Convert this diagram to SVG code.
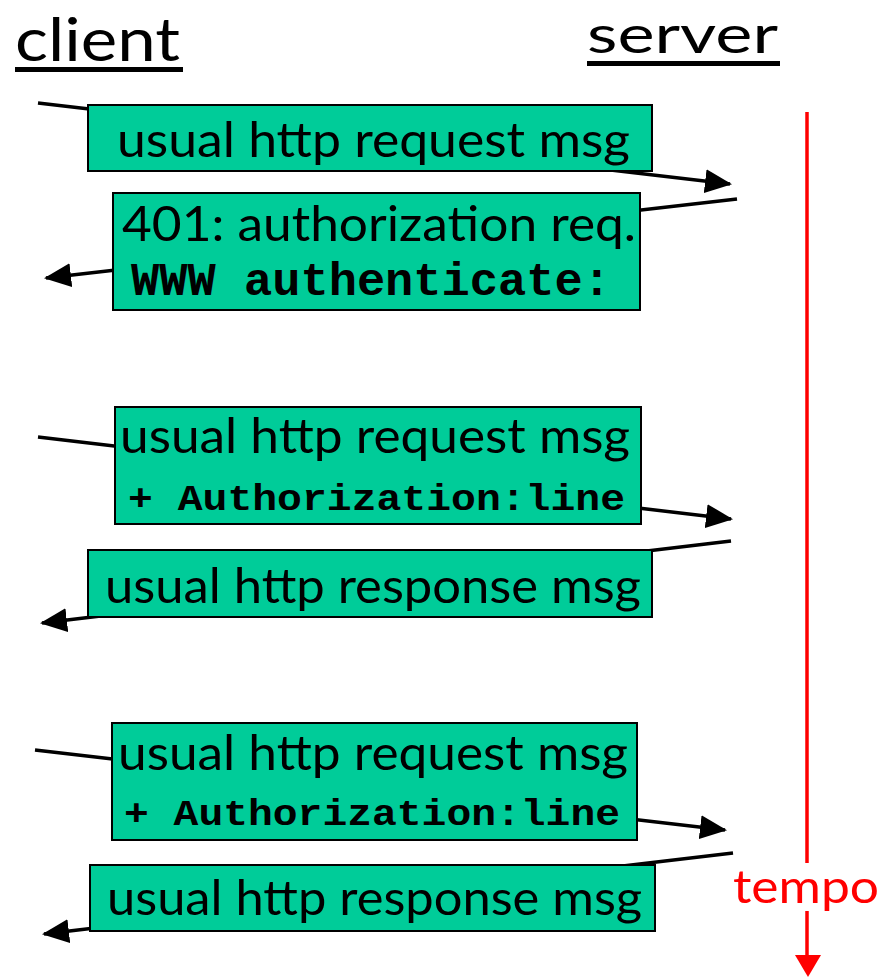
<svg xmlns="http://www.w3.org/2000/svg" width="893" height="978" viewBox="0 0 893 978">
  <style>
    .box { fill: #00CC99; stroke: #000; stroke-width: 2; }
    .msg { font-family: "Comic Sans MS", Lato, "DejaVu Sans", sans-serif; font-size: 48px; fill: #000; }
    .mono { font-family: "Liberation Mono", "Courier New", monospace; font-weight: bold; fill: #000; }
    .head { font-family: "Comic Sans MS", Lato, "DejaVu Sans", sans-serif; fill: #000; }
    .wire { stroke: #000; stroke-width: 3.5; fill: none; marker-end: url(#arrow); }
    .time { stroke: #FF0000; stroke-width: 3.5; fill: none; }
  </style>
  <defs>
    <marker id="arrow" markerUnits="userSpaceOnUse" markerWidth="30" markerHeight="26" refX="25" refY="12" orient="auto">
      <path d="M0,0 L27,12 L0,24 z" fill="#000"/>
    </marker>
  </defs>

  <rect width="893" height="978" fill="#fff"/>

  <!-- column headings -->
  <g id="client-label">
    <text class="head" x="15" y="61" font-size="60" textLength="165" lengthAdjust="spacingAndGlyphs">client</text>
    <rect x="15" y="67" width="168" height="5" fill="#000"/>
  </g>
  <g id="server-label">
    <text class="head" x="587" y="53" font-size="53" textLength="191" lengthAdjust="spacingAndGlyphs">server</text>
    <rect x="587" y="61" width="193" height="5" fill="#000"/>
  </g>

  <!-- server time axis -->
  <g id="time-axis">
    <line class="time" x1="807" y1="112" x2="807" y2="863"/>
    <line class="time" x1="807" y1="911" x2="807" y2="958"/>
    <polygon points="795,955 821,955 808,977" fill="#FF0000"/>
    <text x="733" y="903" font-family="'Comic Sans MS', Lato, 'DejaVu Sans', sans-serif" font-size="46" fill="#FF0000" textLength="146" lengthAdjust="spacingAndGlyphs">tempo</text>
  </g>

  <!-- message arrows (drawn beneath the message boxes) -->
  <g id="connectors">
    <line class="wire" x1="38" y1="103" x2="730" y2="184"/>
    <line class="wire" x1="737" y1="199" x2="46" y2="278"/>
    <line class="wire" x1="38" y1="437" x2="731" y2="519"/>
    <line class="wire" x1="731" y1="541" x2="42" y2="623"/>
    <line class="wire" x1="35" y1="750" x2="725" y2="830"/>
    <line class="wire" x1="733" y1="853" x2="44" y2="934"/>
  </g>

  <!-- message boxes -->
  <g id="msg-request-1">
    <rect class="box" x="88" y="105" width="564" height="66"/>
    <text class="msg" x="117" y="157" textLength="513" lengthAdjust="spacingAndGlyphs">usual http request msg</text>
  </g>
  <g id="msg-401">
    <rect class="box" x="113" y="193" width="527" height="117"/>
    <text class="msg" x="122" y="241" textLength="514" lengthAdjust="spacingAndGlyphs">401: authorization req.</text>
    <text class="mono" x="131" y="295" font-size="46" textLength="480" lengthAdjust="spacingAndGlyphs">WWW authenticate:</text>
  </g>
  <g id="msg-request-2">
    <rect class="box" x="115" y="407" width="526" height="117"/>
    <text class="msg" x="120" y="453" textLength="510" lengthAdjust="spacingAndGlyphs">usual http request msg</text>
    <text class="mono" x="128" y="510" font-size="37" textLength="497" lengthAdjust="spacingAndGlyphs">+ Authorization:line</text>
  </g>
  <g id="msg-response-1">
    <rect class="box" x="88" y="550" width="564" height="67"/>
    <text class="msg" x="105" y="603" textLength="536" lengthAdjust="spacingAndGlyphs">usual http response msg</text>
  </g>
  <g id="msg-request-3">
    <rect class="box" x="112" y="723" width="525" height="117"/>
    <text class="msg" x="118" y="770" textLength="510" lengthAdjust="spacingAndGlyphs">usual http request msg</text>
    <text class="mono" x="124" y="825" font-size="37" textLength="496" lengthAdjust="spacingAndGlyphs">+ Authorization:line</text>
  </g>
  <g id="msg-response-2">
    <rect class="box" x="90" y="865" width="565" height="66"/>
    <text class="msg" x="107" y="915" textLength="535" lengthAdjust="spacingAndGlyphs">usual http response msg</text>
  </g>
</svg>
